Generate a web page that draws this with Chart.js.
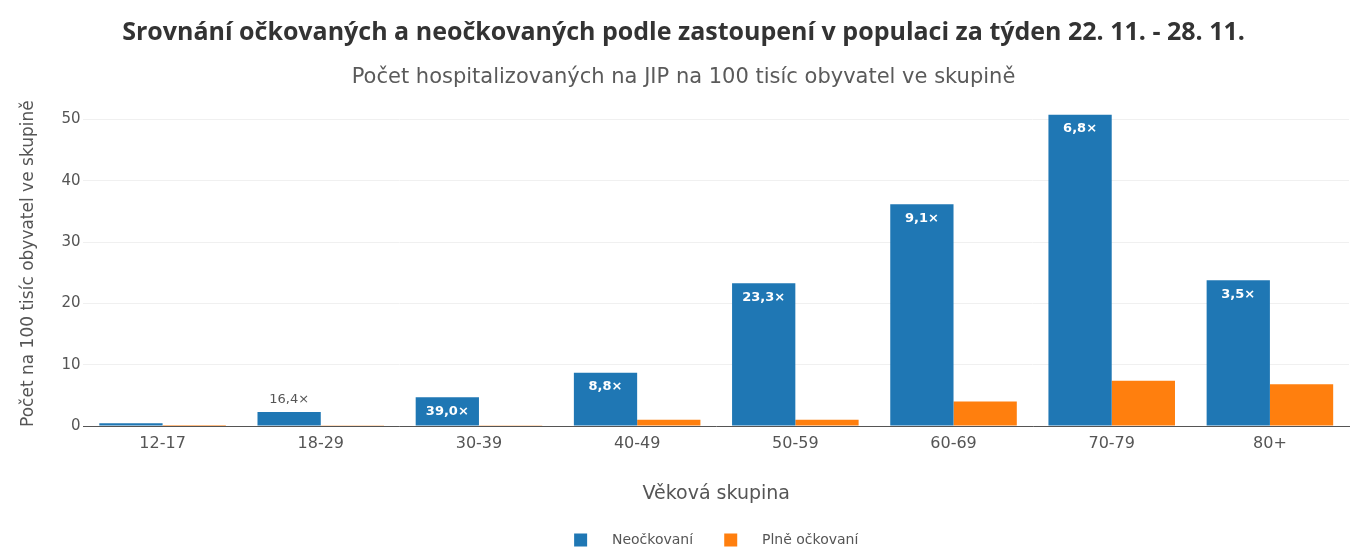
<!DOCTYPE html>
<html>
<head>
<meta charset="utf-8">
<script src="https://cdn.jsdelivr.net/npm/chart.js@4.4.0/dist/chart.umd.min.js"></script>
<style>
  html, body { margin: 0; padding: 0; background: #fff; }
  #wrap { width: 1355px; height: 552px; }
</style>
</head>
<body>
<div id="wrap"><canvas id="myChart"></canvas></div>
<script>
  var categories = ["12-17", "18-29", "30-39", "40-49", "50-59", "60-69", "70-79", "80+"];
  var unvaccinated = [0.45, 2.3, 4.7, 8.7, 23.3, 36.2, 50.8, 23.8];
  var vaccinated = [0.02, 0.14, 0.12, 1.0, 1.0, 3.98, 7.4, 6.8];
  var ratioLabels = ["", "16,4×", "39,0×", "8,8×", "23,3×", "9,1×", "6,8×", "3,5×"];

  var TITLE_FONT = "'Open Sans', sans-serif";
  var FONT = "'DejaVu Sans', Verdana, sans-serif";

  // draws the ratio text on top of the blue bars
  var ratioPlugin = {
    id: "ratioLabels",
    afterDatasetsDraw: function(chart) {
      var ctx = chart.ctx;
      var meta = chart.getDatasetMeta(0);
      ctx.save();
      ctx.textAlign = "center";
      ctx.textBaseline = "middle";
      meta.data.forEach(function(bar, i) {
        var txt = ratioLabels[i];
        if (!txt) return;
        var h = bar.base - bar.y;
        if (h > 24) {
          ctx.font = "bold 13px " + FONT;
          ctx.fillStyle = "#ffffff";
          ctx.fillText(txt, bar.x, bar.y + 14);
        } else {
          ctx.font = "13px " + FONT;
          ctx.fillStyle = "#555555";
          ctx.fillText(txt, bar.x, bar.y - 12);
        }
      });
      ctx.restore();
    }
  };

  function createChart() {
    var ctx = document.getElementById("myChart").getContext("2d");
    var chart = new Chart(ctx, {
      type: "bar",
      data: {
        labels: categories,
        datasets: [{
          label: "Neočkovaní",
          backgroundColor: "#1f77b4",
          data: unvaccinated
        }, {
          label: "Plně očkovaní",
          backgroundColor: "#ff7f0e",
          data: vaccinated
        }]
      },
      plugins: [ratioPlugin],
      options: {
        responsive: true,
        maintainAspectRatio: false,
        animation: false,
        layout: { padding: { left: 18, right: 6, top: 8, bottom: -5 } },
        datasets: {
          bar: { categoryPercentage: 0.8, barPercentage: 1.0 }
        },
        plugins: {
          title: {
            display: true,
            text: "Srovnání očkovaných a neočkovaných podle zastoupení v populaci za týden 22. 11. - 28. 11.",
            color: "#333333",
            font: { family: TITLE_FONT, size: 25, weight: "bold" },
            padding: { top: 10, bottom: 17 }
          },
          subtitle: {
            display: true,
            text: "Počet hospitalizovaných na JIP na 100 tisíc obyvatel ve skupině",
            color: "#5a5a5a",
            font: { family: FONT, size: 21 },
            padding: { top: 0, bottom: 11 }
          },
          legend: {
            position: "bottom",
            fullSize: false,
            labels: {
              color: "#555555",
              font: { family: FONT, size: 14 },
              boxWidth: 13,
              boxHeight: 13,
              padding: 0,
              generateLabels: function(chart) {
                var items = Chart.defaults.plugins.legend.labels.generateLabels(chart);
                items.forEach(function(it, i) {
                  it.text = "    " + it.text + (i === 0 ? "       " : "");
                });
                return items;
              }
            }
          },
          tooltip: { enabled: false }
        },
        scales: {
          x: {
            grid: { display: false, drawTicks: false },
            border: { color: "#555555" },
            ticks: { color: "#555555", font: { family: FONT, size: 16 }, padding: 8 },
            title: {
              display: true,
              text: "Věková skupina",
              color: "#555555",
              font: { family: FONT, size: 19 },
              padding: { top: 21, bottom: 28 }
            }
          },
          y: {
            min: 0,
            max: 53,
            afterBuildTicks: function(axis) {
              axis.ticks = axis.ticks.filter(function(t) { return t.value % 10 === 0; });
            },
            ticks: { stepSize: 10, color: "#555555", font: { family: FONT, size: 15 }, padding: 3 },
            grid: { color: "#f0f0f0", drawTicks: false },
            border: { display: false },
            title: {
              display: true,
              text: "Počet na 100 tisíc obyvatel ve skupině",
              color: "#555555",
              font: { family: FONT, size: 17 },
              padding: { top: 0, bottom: 20 }
            }
          }
        }
      }
    });
  }
  createChart();
</script>
</body>
</html>
